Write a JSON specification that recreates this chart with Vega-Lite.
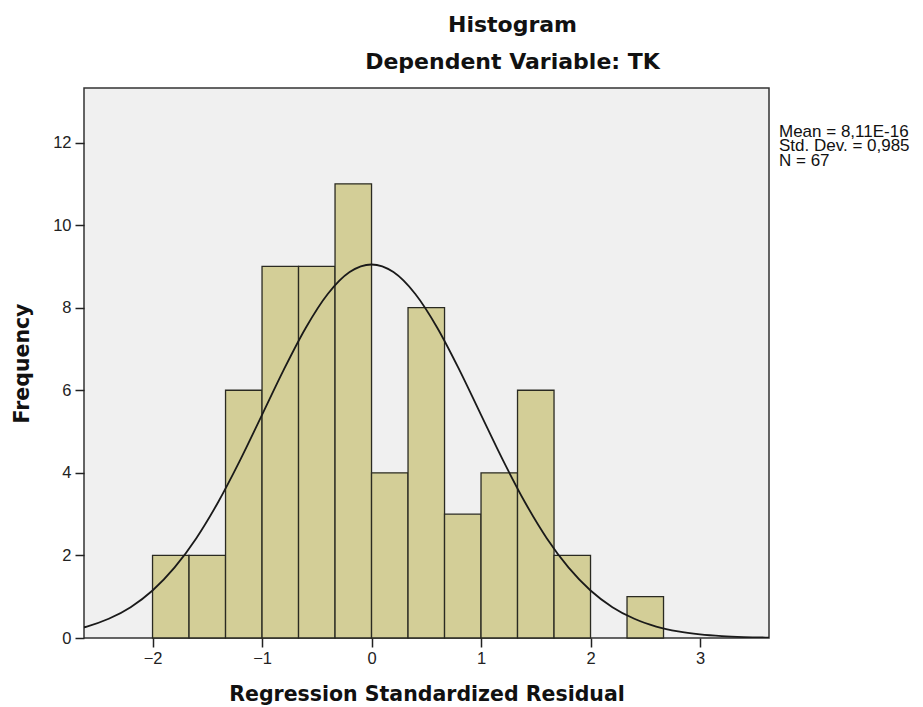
{
  "$schema": "https://vega.github.io/schema/vega-lite/v6.json",
  "width": 685,
  "height": 550,
  "autosize": "none",
  "padding": {"left": 84, "top": 88, "right": 154, "bottom": 69},
  "background": "white",
  "config": {
    "font": "Liberation Sans",
    "view": {"fill": "#F0F0F0", "stroke": "#333333", "strokeWidth": 1.5},
    "axis": {"grid": false, "domain": false, "tickColor": "#222222", "tickWidth": 1.5, "tickSize": 9, "labelFontSize": 16.5, "labelColor": "#222222", "titleFont": "DejaVu Sans", "titleFontSize": 20.5, "titleFontWeight": "bold", "titleColor": "#111111"}
  },
  "title": {
    "text": "Histogram",
    "subtitle": "Dependent Variable: TK",
    "font": "DejaVu Sans",
    "subtitleFont": "DejaVu Sans",
    "fontSize": 22,
    "fontWeight": "bold",
    "subtitleFontSize": 22,
    "subtitleFontWeight": "bold",
    "subtitleColor": "#111111",
    "color": "#111111",
    "subtitlePadding": 15,
    "anchor": "middle",
    "dx": 86,
    "offset": 14
  },
  "datasets": {
    "bins": [
      {"bin_start": -2.0, "bin_end": -1.6667, "count": 2},
      {"bin_start": -1.6667, "bin_end": -1.3333, "count": 2},
      {"bin_start": -1.3333, "bin_end": -1.0, "count": 6},
      {"bin_start": -1.0, "bin_end": -0.6667, "count": 9},
      {"bin_start": -0.6667, "bin_end": -0.3333, "count": 9},
      {"bin_start": -0.3333, "bin_end": 0.0, "count": 11},
      {"bin_start": 0.0, "bin_end": 0.3333, "count": 4},
      {"bin_start": 0.3333, "bin_end": 0.6667, "count": 8},
      {"bin_start": 0.6667, "bin_end": 1.0, "count": 3},
      {"bin_start": 1.0, "bin_end": 1.3333, "count": 4},
      {"bin_start": 1.3333, "bin_end": 1.6667, "count": 6},
      {"bin_start": 1.6667, "bin_end": 2.0, "count": 2},
      {"bin_start": 2.3333, "bin_end": 2.6667, "count": 1}
    ],
    "curve": [
      {"x": -2.7, "y": 0.211},
      {"x": -2.6, "y": 0.278},
      {"x": -2.4, "y": 0.465},
      {"x": -2.2, "y": 0.747},
      {"x": -2.0, "y": 1.151},
      {"x": -1.8, "y": 1.703},
      {"x": -1.6, "y": 2.418},
      {"x": -1.4, "y": 3.294},
      {"x": -1.2, "y": 4.307},
      {"x": -1.0, "y": 5.403},
      {"x": -0.8, "y": 6.505},
      {"x": -0.6, "y": 7.514},
      {"x": -0.4, "y": 8.330},
      {"x": -0.2, "y": 8.861},
      {"x": 0.0, "y": 9.046},
      {"x": 0.2, "y": 8.861},
      {"x": 0.4, "y": 8.330},
      {"x": 0.6, "y": 7.514},
      {"x": 0.8, "y": 6.505},
      {"x": 1.0, "y": 5.403},
      {"x": 1.2, "y": 4.307},
      {"x": 1.4, "y": 3.294},
      {"x": 1.6, "y": 2.418},
      {"x": 1.8, "y": 1.703},
      {"x": 2.0, "y": 1.151},
      {"x": 2.2, "y": 0.747},
      {"x": 2.4, "y": 0.465},
      {"x": 2.6, "y": 0.278},
      {"x": 2.8, "y": 0.159},
      {"x": 3.0, "y": 0.0876},
      {"x": 3.2, "y": 0.0462},
      {"x": 3.4, "y": 0.0234},
      {"x": 3.6, "y": 0.0114},
      {"x": 3.8, "y": 0.0053}
    ],
    "stats": [
      {"text": "Mean = 8,11E-16\nStd. Dev. = 0,985\nN = 67"}
    ]
  },
  "layer": [
    {
      "data": {"name": "bins"},
      "mark": {"type": "rect", "fill": "#D3CE97", "stroke": "#2a2a22", "strokeWidth": 1.3},
      "encoding": {
        "x": {"field": "bin_start", "type": "quantitative", "scale": {"domain": [-2.626, 3.63], "nice": false, "zero": false}, "axis": {"values": [-2, -1, 0, 1, 2, 3], "format": "d", "title": "Regression Standardized Residual", "titlePadding": 18, "labelPadding": 3}},
        "x2": {"field": "bin_end"},
        "y": {"field": "count", "type": "quantitative", "scale": {"domain": [0, 13.32], "nice": false}, "axis": {"values": [0, 2, 4, 6, 8, 10, 12], "title": "Frequency", "titlePadding": 20, "labelPadding": 4}},
        "y2": {"datum": 0}
      }
    },
    {
      "data": {"name": "curve"},
      "mark": {"type": "line", "interpolate": "monotone", "color": "#1a1a1a", "strokeWidth": 1.8, "clip": true},
      "encoding": {
        "x": {"field": "x", "type": "quantitative"},
        "y": {"field": "y", "type": "quantitative"}
      }
    },
    {
      "data": {"name": "stats"},
      "mark": {"type": "text", "align": "left", "baseline": "top", "fontSize": 17, "lineBreak": "\n", "lineHeight": 14.5, "dx": 10, "color": "#111111", "clip": false},
      "encoding": {
        "text": {"field": "text"},
        "x": {"datum": 3.63},
        "y": {"datum": 12.45}
      }
    }
  ]
}
